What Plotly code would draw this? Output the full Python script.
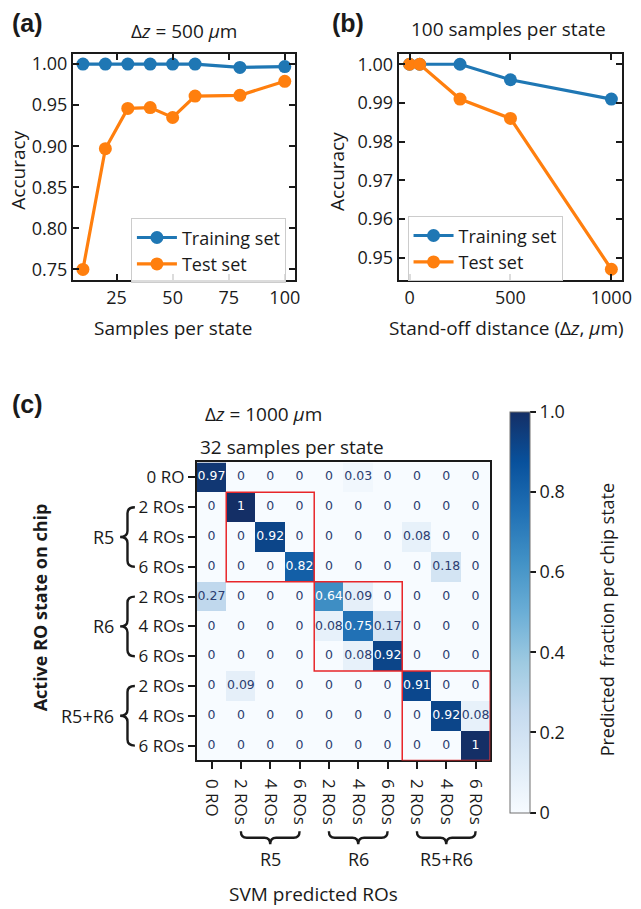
import plotly.graph_objects as go

W, H = 641, 909
FONT = "Open Sans"
BOLD = "Liberation Sans"
INK = "#1a1a1a"
BLUE = "#1f77b4"
ORANGE = "#ff7f0e"

# ---------------- data ----------------
# Panel (a): accuracy vs samples per state (dz = 500 um)
samples_per_state = [10, 20, 30, 40, 50, 60, 80, 100]
train_acc_a = [1.0, 1.0, 1.0, 1.0, 1.0, 1.0, 0.996, 0.997]
test_acc_a = [0.75, 0.897, 0.946, 0.947, 0.935, 0.961, 0.962, 0.979]

# Panel (b): accuracy vs stand-off distance (100 samples per state)
standoff_um = [0, 50, 250, 500, 1000]
train_acc_b = [1.0, 1.0, 1.0, 0.996, 0.991]
test_acc_b = [1.0, 1.0, 0.991, 0.986, 0.947]

# Panel (c): confusion matrix (rows = true state, cols = predicted)
state_labels = ["0 RO", "2 ROs", "4 ROs", "6 ROs", "2 ROs", "4 ROs", "6 ROs",
                "2 ROs", "4 ROs", "6 ROs"]
group_labels = ["R5", "R6", "R5+R6"]
group_start = [1, 4, 7]
group_size = 3
confusion = [
    [0.97, 0, 0, 0, 0, 0.03, 0, 0, 0, 0],
    [0, 1, 0, 0, 0, 0, 0, 0, 0, 0],
    [0, 0, 0.92, 0, 0, 0, 0, 0.08, 0, 0],
    [0, 0, 0, 0.82, 0, 0, 0, 0, 0.18, 0],
    [0.27, 0, 0, 0, 0.64, 0.09, 0, 0, 0, 0],
    [0, 0, 0, 0, 0.08, 0.75, 0.17, 0, 0, 0],
    [0, 0, 0, 0, 0, 0.08, 0.92, 0, 0, 0],
    [0, 0.09, 0, 0, 0, 0, 0, 0.91, 0, 0],
    [0, 0, 0, 0, 0, 0, 0, 0, 0.92, 0.08],
    [0, 0, 0, 0, 0, 0, 0, 0, 0, 1],
]
cbar_ticks = [0, 0.2, 0.4, 0.6, 0.8, 1.0]
cbar_ticktext = ["0", "0.2", "0.4", "0.6", "0.8", "1.0"]

BLUES = [[0.0, "#f7fbff"], [0.125, "#deebf7"], [0.25, "#c6dbef"],
         [0.375, "#9ecae1"], [0.5, "#6baed6"], [0.625, "#4292c6"],
         [0.75, "#2171b5"], [0.875, "#08519c"], [1.0, "#142f66"]]


def px(x):
    return x / W


def py(y):
    return 1 - y / H


# layout geometry (pixels)
A_X = (74, 300)
B_X = (405, 631.7)
AB_Y = (52, 279)
C_X = (200, 498)
C_Y = (462, 761)

fig = go.Figure()

# ---- panel (a)
fig.add_trace(go.Scatter(x=samples_per_state, y=train_acc_a, mode="lines+markers",
                         name="Training set", line=dict(color=BLUE, width=3.2),
                         marker=dict(size=13, color=BLUE), xaxis="x", yaxis="y",
                         legend="legend"))
fig.add_trace(go.Scatter(x=samples_per_state, y=test_acc_a, mode="lines+markers",
                         name="Test set", line=dict(color=ORANGE, width=3.2),
                         marker=dict(size=13, color=ORANGE), xaxis="x", yaxis="y",
                         legend="legend"))
# ---- panel (b)
fig.add_trace(go.Scatter(x=standoff_um, y=train_acc_b, mode="lines+markers",
                         name="Training set", line=dict(color=BLUE, width=3.2),
                         marker=dict(size=13, color=BLUE), xaxis="x2", yaxis="y2",
                         legend="legend2"))
fig.add_trace(go.Scatter(x=standoff_um, y=test_acc_b, mode="lines+markers",
                         name="Test set", line=dict(color=ORANGE, width=3.2),
                         marker=dict(size=13, color=ORANGE), xaxis="x2", yaxis="y2",
                         legend="legend2"))

# ---- panel (c)
n = len(state_labels)
idx = list(range(n))
cb_top, cb_bot = 411.7, 812.7
fig.add_trace(go.Heatmap(
    z=confusion, x=idx, y=idx, zmin=0, zmax=1, colorscale=BLUES,
    xaxis="x3", yaxis="y3", hoverinfo="skip",
    colorbar=dict(x=px(518.3), xanchor="left", xpad=0, ypad=0,
                  y=py((cb_top + cb_bot) / 2), yanchor="middle",
                  len=cb_bot - cb_top, lenmode="pixels",
                  thickness=20, thicknessmode="pixels",
                  outlinewidth=1, outlinecolor="#707070",
                  ticks="outside", ticklen=6, tickwidth=1.5, tickcolor=INK,
                  tickvals=cbar_ticks, ticktext=cbar_ticktext,
                  tickfont=dict(size=18, family=FONT, color=INK)),
))

tx, ty, tt, tc = [], [], [], []
for r, row in enumerate(confusion):
    for c, v in enumerate(row):
        tx.append(c)
        ty.append(r)
        tt.append(f"{v:.2g}")
        tc.append("white" if v > 0.5 else "#2b3d70")
fig.add_trace(go.Scatter(x=tx, y=ty, text=tt, mode="text", xaxis="x3", yaxis="y3",
                         textfont=dict(size=12.5, family="DejaVu Sans", color=tc),
                         showlegend=False, hoverinfo="skip"))

# red block outlines
shapes = []
for g in group_start:
    shapes.append(dict(type="rect", xref="x3", yref="y3",
                       x0=g - 0.5, x1=g + group_size - 0.5,
                       y0=g - 0.5, y1=g + group_size - 0.5,
                       line=dict(color="#e8262a", width=1.5), layer="above"))

# braces
cw = (C_X[1] - C_X[0]) / n
ch = (C_Y[1] - C_Y[0]) / n


def P(x, y):
    return f"{px(x):.5f},{py(y):.5f}"


def vbrace(xr, d, y0, y1, r=6):
    ym = (y0 + y1) / 2
    xm = xr - d / 2
    return (f"M{P(xr, y0)} Q{P(xm, y0)} {P(xm, y0 + r)} L{P(xm, ym - r)} "
            f"Q{P(xm, ym)} {P(xr - d, ym)} Q{P(xm, ym)} {P(xm, ym + r)} "
            f"L{P(xm, y1 - r)} Q{P(xm, y1)} {P(xr, y1)}")


def hbrace(yt, d, x0, x1, r=6):
    xm = (x0 + x1) / 2
    ymid = yt + d / 2
    return (f"M{P(x0, yt)} Q{P(x0, ymid)} {P(x0 + r, ymid)} L{P(xm - r, ymid)} "
            f"Q{P(xm, ymid)} {P(xm, yt + d)} Q{P(xm, ymid)} {P(xm + r, ymid)} "
            f"L{P(x1 - r, ymid)} Q{P(x1, ymid)} {P(x1, yt)}")


annotations = []
for g, lab in zip(group_start, group_labels):
    # left (rows)
    y0 = C_Y[0] + (g + 0.5) * ch
    y1 = C_Y[0] + (g + group_size - 0.5) * ch
    shapes.append(dict(type="path", xref="paper", yref="paper",
                       path=vbrace(137, 15, y0, y1), line=dict(color=INK, width=2.4)))
    annotations.append(dict(x=px(118), y=py((y0 + y1) / 2), xref="paper", yref="paper",
                            text=lab, showarrow=False, xanchor="right", yanchor="middle",
                            font=dict(size=18, family=FONT, color=INK)))
    # bottom (columns)
    x0 = C_X[0] + (g + 0.5) * cw
    x1 = C_X[0] + (g + group_size - 0.5) * cw
    shapes.append(dict(type="path", xref="paper", yref="paper",
                       path=hbrace(832, 13, x0, x1), line=dict(color=INK, width=2.4)))
    annotations.append(dict(x=px((x0 + x1) / 2), y=py(860), xref="paper", yref="paper",
                            text=lab, showarrow=False, xanchor="center", yanchor="middle",
                            font=dict(size=18, family=FONT, color=INK)))


def label(x, y, text, size=19, family=FONT, angle=0, xanchor="center", bold=False):
    annotations.append(dict(x=px(x), y=py(y), xref="paper", yref="paper",
                            text=f"<b>{text}</b>" if bold else text,
                            showarrow=False, xanchor=xanchor, yanchor="middle",
                            textangle=angle,
                            font=dict(size=size, family=family, color=INK)))


label(10, 21, "(a)", size=25, family=BOLD, xanchor="left", bold=True)
label(335, 21, "(b)", size=25, family=BOLD, xanchor="left", bold=True)
label(10, 403, "(c)", size=25, family=BOLD, xanchor="left", bold=True)
label(187, 29, "Δ<i>z</i> = 500 <i>μ</i>m")
label(517, 27, "100 samples per state")
label(176, 327, "Samples per state")
label(515, 327, "Stand-off distance (Δ<i>z</i>, <i>μ</i>m)")
label(18.5, 169, "Accuracy", angle=-90)
label(343, 170, "Accuracy", angle=-90)
label(268, 413, "Δ<i>z</i> = 1000 <i>μ</i>m")
label(297, 446, "32 samples per state")
label(41, 607, "Active RO state on chip", size=18, angle=-90, bold=True)
label(318, 895, "SVM predicted ROs")
label(617, 620, "Predicted  fraction per chip state", size=18, angle=-90)

line_ax = dict(showgrid=False, zeroline=False, showline=True, linecolor=INK,
               linewidth=2, mirror="allticks", ticks="inside", ticklen=6,
               tickwidth=1.5, tickcolor=INK,
               tickfont=dict(size=18, family=FONT, color=INK))
heat_ax = dict(showgrid=False, zeroline=False, showline=True, linecolor=INK,
               linewidth=2, mirror=True, ticks="outside", ticklen=7,
               tickwidth=1.8, tickcolor=INK,
               tickfont=dict(size=17, family=FONT, color=INK))

legend_common = dict(xanchor="left", yanchor="top", bordercolor="#cccccc",
                     borderwidth=1, bgcolor="rgba(255,255,255,0.85)",
                     font=dict(size=18, family=FONT, color=INK),
                     itemwidth=40, tracegroupgap=0)

fig.update_layout(
    width=W, height=H, margin=dict(l=0, r=0, t=0, b=0),
    paper_bgcolor="white", plot_bgcolor="white",
    showlegend=True,
    xaxis=dict(domain=[px(A_X[0]), px(A_X[1])], range=[5.5, 104.7],
               tickvals=[25, 50, 75, 100], anchor="y", **line_ax),
    yaxis=dict(domain=[py(AB_Y[1]), py(AB_Y[0])], range=[0.737, 1.0125],
               tickvals=[0.75, 0.80, 0.85, 0.90, 0.95, 1.00], tickformat=".2f",
               anchor="x", **line_ax),
    xaxis2=dict(domain=[px(B_X[0]), px(B_X[1])], range=[-54, 1052],
                tickvals=[0, 500, 1000], anchor="y2", **line_ax),
    yaxis2=dict(domain=[py(AB_Y[1]), py(AB_Y[0])], range=[0.9442, 1.0027],
                tickvals=[0.95, 0.96, 0.97, 0.98, 0.99, 1.00], tickformat=".2f",
                anchor="x2", **line_ax),
    xaxis3=dict(domain=[px(C_X[0]), px(C_X[1])], range=[-0.5, n - 0.5],
                tickvals=idx, ticktext=state_labels, tickangle=90, anchor="y3",
                ticklabelstandoff=6, **heat_ax),
    yaxis3=dict(domain=[py(C_Y[1]), py(C_Y[0])], range=[n - 0.5, -0.5],
                tickvals=idx, ticktext=state_labels, anchor="x3", **heat_ax),
    legend=dict(x=px(133), y=py(217), **legend_common),
    legend2=dict(x=px(414), y=py(215), **legend_common),
    shapes=shapes,
    annotations=annotations,
)

fig.write_html("out.html")
